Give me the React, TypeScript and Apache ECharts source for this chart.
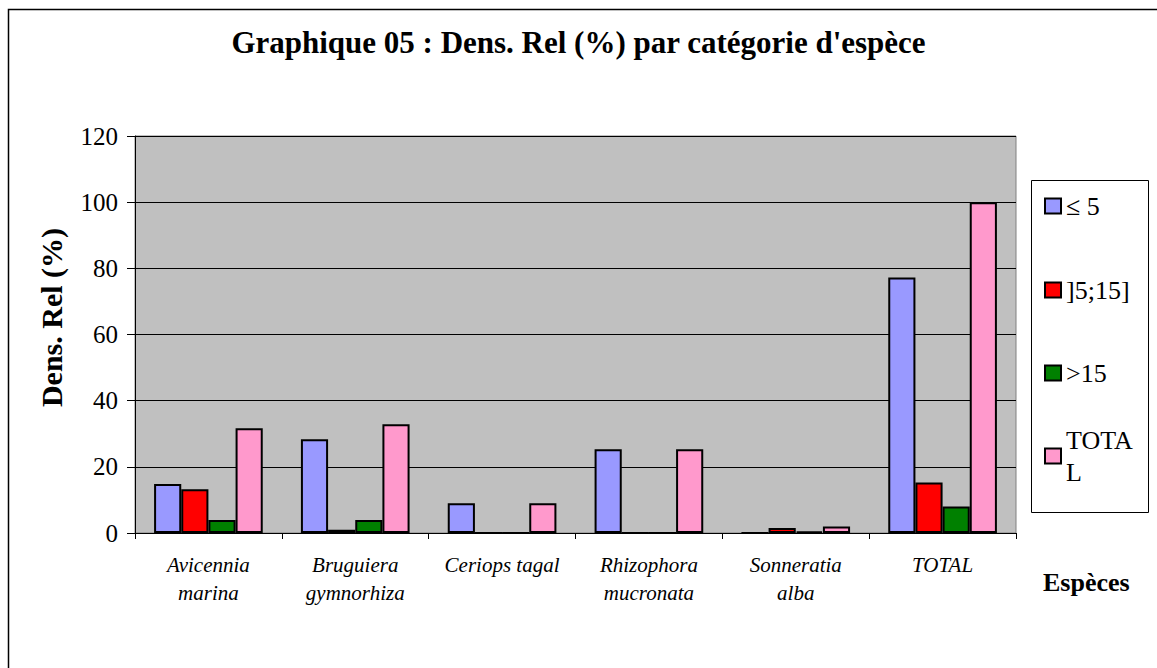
import React, { useEffect, useRef } from "react";
import * as echarts from "echarts";

const categories = [
  "Avicennia\nmarina",
  "Bruguiera\ngymnorhiza",
  "Ceriops tagal",
  "Rhizophora\nmucronata",
  "Sonneratia\nalba",
  "TOTAL",
];
const seriesNames = ["≤ 5", "]5;15]", ">15", "TOTAL"];
const lte5 = [14.8, 28.3, 9.0, 25.3, 0, 77.2];
const from5to15 = [13.2, 1.0, 0, 0, 1.5, 15.3];
const gt15 = [3.9, 3.9, 0, 0, 0.5, 8.0];
const total = [31.7, 32.9, 9.0, 25.3, 2.0, 100];
const yTicks = { min: 0, max: 120, interval: 20 };
const colors = ["#9999FF", "#FF0000", "#008000", "#FF99CC"];

const FONT = "'Liberation Serif', 'Times New Roman', serif";

export default function App() {
  const ref = useRef<HTMLDivElement>(null);
  useEffect(() => {
    document.body.style.margin = "0";
    const chart = echarts.init(ref.current!, null, { renderer: "svg" });
    const values = [lte5, from5to15, gt15, total];
    const legendCenters = [206, 290, 373, 456];
    const legends = seriesNames.map((name, i) => {
      const isTotal = name === "TOTAL";
      return {
        data: [name],
        orient: "vertical",
        left: 1044,
        top: isTotal ? legendCenters[i] - 48 : legendCenters[i] - 13,
        padding: 0,
        itemWidth: 16,
        itemHeight: 15,
        icon: "rect",
        selectedMode: false,
        formatter: isTotal ? "TOTA\nL" : "{name}",
        textStyle: {
          fontFamily: FONT,
          fontSize: 26,
          color: "#000",
          lineHeight: isTotal ? 32 : 26,
          padding: isTotal ? [32, 0, 0, 0] : 0,
        },
      };
    });
    chart.setOption({
      animation: false,
      title: {
        text: "Graphique 05 : Dens. Rel (%) par catégorie d'espèce",
        left: "center",
        top: 22,
        textStyle: { fontFamily: FONT, fontSize: 31, fontWeight: "bold", color: "#000" },
      },
      graphic: [
        {
          type: "rect",
          shape: { x: 8.5, y: 9.5, width: 1200, height: 700 },
          style: { fill: "none", stroke: "#000", lineWidth: 1.5 },
          silent: true,
          z: 0,
        },
        {
          type: "rect",
          shape: { x: 1031.5, y: 180.5, width: 117, height: 332 },
          style: { fill: "#fff", stroke: "#000", lineWidth: 1 },
          silent: true,
          z: 0,
        },
        {
          type: "text",
          left: 1043,
          top: 569,
          style: { text: "Espèces", fontFamily: FONT, fontSize: 26, fontWeight: "bold", fill: "#000" },
        },
      ],
      legend: legends,
      grid: {
        left: 135,
        right: 141,
        top: 136,
        bottom: 135,
        show: true,
        backgroundColor: "#C0C0C0",
        borderColor: "#808080",
        borderWidth: 1,
      },
      xAxis: {
        type: "category",
        data: categories,
        axisLine: { lineStyle: { color: "#000", width: 1 } },
        axisTick: { show: true, length: 6, lineStyle: { color: "#000" } },
        axisLabel: {
          fontFamily: FONT,
          fontSize: 21,
          fontStyle: "italic",
          color: "#000",
          lineHeight: 28,
          margin: 18,
          interval: 0,
        },
      },
      yAxis: {
        type: "value",
        min: yTicks.min,
        max: yTicks.max,
        interval: yTicks.interval,
        name: "Dens. Rel (%)",
        nameLocation: "middle",
        nameGap: 69,
        nameTextStyle: {
          fontFamily: FONT,
          fontSize: 30,
          fontWeight: "bold",
          color: "#000",
          padding: [0, 0, 0, 34],
        },
        axisLine: { show: true, lineStyle: { color: "#000", width: 1 } },
        axisTick: { show: true, length: 8, lineStyle: { color: "#000" } },
        axisLabel: { fontFamily: FONT, fontSize: 25, color: "#000", margin: 17 },
        splitLine: { show: true, lineStyle: { color: "#000", width: 1 } },
      },
      series: seriesNames.map((name, i) => ({
        name,
        type: "bar",
        data: values[i],
        barGap: "0%",
        barCategoryGap: "26%",
        itemStyle: { color: colors[i], borderColor: "#000", borderWidth: 2 },
      })),
    });
    return () => chart.dispose();
  }, []);
  return <div ref={ref} style={{ width: 1157, height: 668 }} />;
}
